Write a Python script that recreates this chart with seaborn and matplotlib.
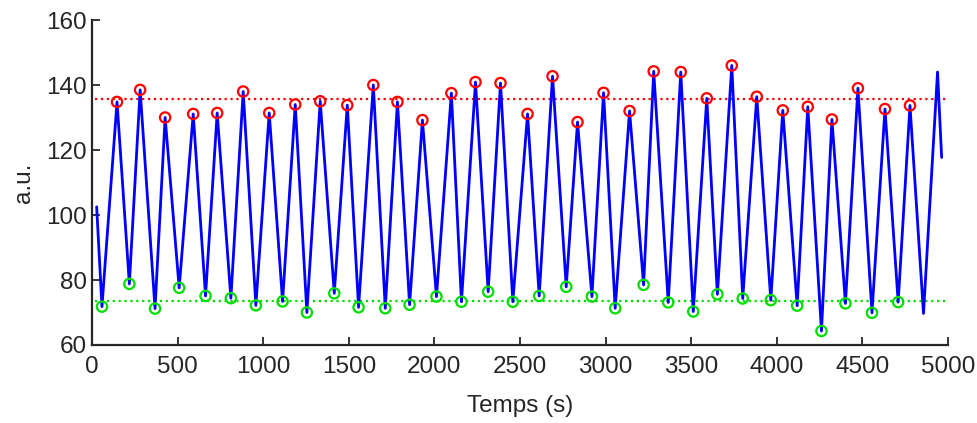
import numpy as np
import pandas as pd
import matplotlib
matplotlib.use('Agg')
import matplotlib.pyplot as plt
import seaborn as sns

# pics détectés (rouge)
peak_t = [146, 281, 427, 591, 731, 883, 1035, 1187, 1333, 1491, 1643, 1784,
          1930, 2099, 2240, 2386, 2544, 2690, 2836, 2988, 3140, 3281, 3439,
          3591, 3737, 3883, 4035, 4181, 4322, 4474, 4632, 4778]
peak_v = [134.8, 138.5, 130.0, 131.1, 131.4, 138.0, 131.4, 134.0, 135.0, 133.8,
          140.0, 134.8, 129.2, 137.5, 140.9, 140.6, 131.1, 142.7, 128.6, 137.6,
          132.0, 144.2, 144.0, 135.9, 146.0, 136.4, 132.2, 133.3, 129.4, 139.0,
          132.6, 133.7]

# creux détectés (vert)
trough_t = [58, 218, 368, 509, 663, 811, 957, 1113, 1255, 1415, 1557, 1713,
            1855, 2012, 2158, 2314, 2458, 2612, 2770, 2920, 3056, 3222, 3366,
            3512, 3653, 3801, 3965, 4119, 4261, 4401, 4556, 4709]
trough_v = [71.8, 78.8, 71.2, 77.6, 75.1, 74.4, 72.2, 73.4, 70.0, 75.9, 71.6,
            71.3, 72.4, 74.9, 73.3, 76.4, 73.3, 75.1, 77.9, 74.9, 71.3, 78.5,
            73.1, 70.3, 75.6, 74.3, 73.8, 72.1, 64.3, 72.8, 69.9, 73.2]

# points du signal non marqués (début / fin)
extra_t = [27, 4857, 4939, 4963]
extra_v = [102.5, 69.7, 144.0, 117.7]

peak_mean = 135.7
trough_mean = 73.5

signal = pd.DataFrame({
    't': peak_t + trough_t + extra_t,
    'v': peak_v + trough_v + extra_v,
}).sort_values('t')

sns.set_style('ticks')
plt.rcParams['font.family'] = ['Liberation Sans', 'DejaVu Sans']
plt.rcParams['xtick.direction'] = 'in'
plt.rcParams['ytick.direction'] = 'in'

fig = plt.figure(figsize=(9.77, 4.23), dpi=100)
ax = fig.add_axes([0.0942, 0.1844, 0.8761, 0.7683])

sns.lineplot(data=signal, x='t', y='v', color='#0000ff', linewidth=2.0,
             estimator=None, sort=True, ax=ax, zorder=2)

t0, t1 = 20, 4990
ax.plot([t0, t1], [peak_mean, peak_mean], color='#ff0000', linestyle=':',
        linewidth=1.6, zorder=1)
ax.plot([t0, t1], [trough_mean, trough_mean], color='#00dd00', linestyle=':',
        linewidth=1.6, zorder=1)

sns.scatterplot(x=peak_t, y=peak_v, s=55, facecolor='none', edgecolor='#ff0000',
                linewidth=1.6, ax=ax, zorder=3)
sns.scatterplot(x=trough_t, y=trough_v, s=55, facecolor='none', edgecolor='#00dd00',
                linewidth=1.6, ax=ax, zorder=3)

ax.set_xlim(0, 5000)
ax.set_ylim(60, 160)
ax.set_xticks(np.arange(0, 5001, 500))
ax.set_yticks(np.arange(60, 161, 20))
sns.despine(ax=ax)
for s in ['left', 'bottom']:
    ax.spines[s].set_linewidth(1.6)
    ax.spines[s].set_color('#262626')
ax.tick_params(length=6, width=1.3, colors='#262626', labelsize=17.5)
ax.tick_params(axis='x', pad=8)
ax.set_xlabel('Temps (s)', fontsize=17.5, color='#262626', labelpad=12)
ax.set_ylabel('a.u.', fontsize=17.5, color='#262626', labelpad=8)

fig.savefig('out.png', dpi=100)
